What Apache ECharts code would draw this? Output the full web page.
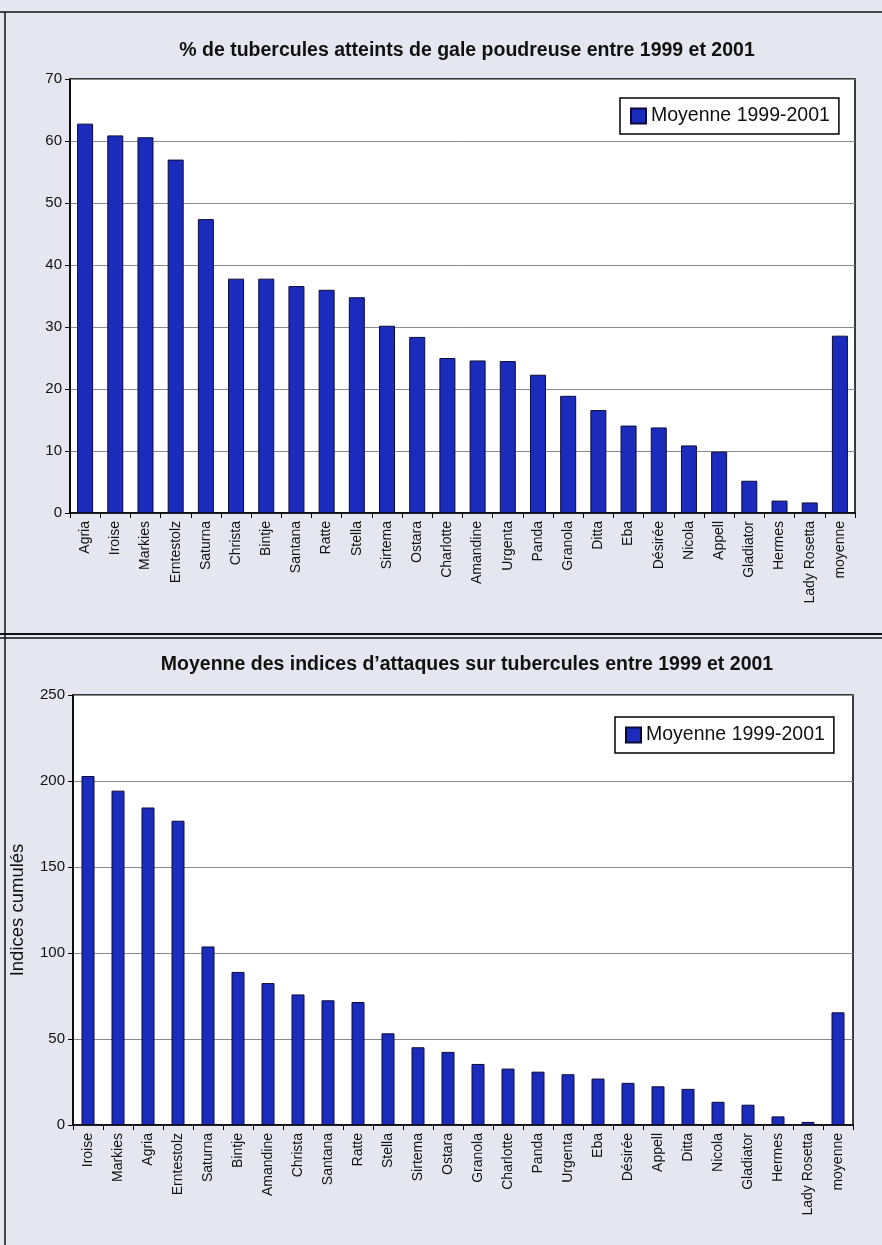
<!DOCTYPE html>
<html><head><meta charset="utf-8">
<script src="https://cdn.jsdelivr.net/npm/echarts@6/dist/echarts.min.js"></script>
<style>html,body{margin:0;padding:0;background:#e6e6f0}#c{width:882px;height:1245px}</style>
</head><body><div id="c"></div>
<script>
const seriesName = 'Moyenne 1999-2001';
const title1 = '% de tubercules atteints de gale poudreuse entre 1999 et 2001';
const title2 = 'Moyenne des indices d\u2019attaques sur tubercules entre 1999 et 2001';
const yName2 = 'Indices cumulés';

const cats1 = ['Agria','Iroise','Markies','Erntestolz','Saturna','Christa','Bintje','Santana','Ratte','Stella','Sirtema','Ostara','Charlotte','Amandine','Urgenta','Panda','Granola','Ditta','Eba','Désirée','Nicola','Appell','Gladiator','Hermes','Lady Rosetta','moyenne'];
const vals1 = [62.8,60.9,60.6,57.0,47.4,37.8,37.8,36.6,36.0,34.8,30.2,28.4,25.0,24.6,24.5,22.3,18.9,16.6,14.1,13.8,10.9,9.9,5.2,2.0,1.7,28.6];

const cats2 = ['Iroise','Markies','Agria','Erntestolz','Saturna','Bintje','Amandine','Christa','Santana','Ratte','Stella','Sirtema','Ostara','Granola','Charlotte','Panda','Urgenta','Eba','Désirée','Appell','Ditta','Nicola','Gladiator','Hermes','Lady Rosetta','moyenne'];
const vals2 = [202.9,194.4,184.6,176.9,103.8,89.0,82.5,75.9,72.5,71.5,53.3,45.2,42.5,35.5,32.8,31.0,29.5,27.0,24.5,22.5,21.0,13.5,11.8,5.0,1.8,65.5];

const y1Min = 0, y1Max = 70, y1Step = 10;
const y2Min = 0, y2Max = 250, y2Step = 50;

const font = "'Liberation Sans', Arial, sans-serif";
const barStyle = {color:'#1b2cbd', borderColor:'#0b0b3a', borderWidth:1};

const chart = echarts.init(document.getElementById('c'), null, {renderer:'canvas'});
function xAxis(gridIndex, data){
  return {type:'category', gridIndex, data,
    axisLine:{show:true, lineStyle:{color:'#000', width:1.5}},
    axisTick:{show:true, alignWithLabel:false, length:5, lineStyle:{color:'#000'}},
    axisLabel:{rotate:90, interval:0, fontSize:14, color:'#111', fontFamily:font, margin:8}
  };
}
function yAxis(gridIndex, min, max, interval, name){
  const a = {type:'value', gridIndex, min, max, interval,
    axisLine:{show:true, lineStyle:{color:'#000', width:1.5}},
    axisTick:{show:true, length:5, lineStyle:{color:'#000'}},
    axisLabel:{fontSize:15, color:'#111', fontFamily:font, margin:8},
    splitLine:{show:true, lineStyle:{color:'#8a8a8a', width:1}}
  };
  if(name){
    a.name = name; a.nameLocation='middle'; a.nameGap=46;
    a.nameTextStyle={fontSize:18.5, color:'#111', fontFamily:font};
  }
  return a;
}
const legendBase = {
  orient:'horizontal', icon:'rect', itemWidth:15, itemHeight:15, itemGap:6,
  backgroundColor:'#fff', borderColor:'#000', borderWidth:1.5, borderRadius:0,
  padding:[8,9,8,10],
  textStyle:{fontSize:19.5, color:'#111', fontFamily:font, padding:[0,0,0,0]},
  data:[seriesName]
};
chart.setOption({
  backgroundColor:'#e6e6f0',
  animation:false,
  title:[
    {text:title1, left:462, top:36, textAlign:'center',
     textStyle:{fontSize:19.5, fontWeight:'bold', color:'#111', fontFamily:font}},
    {text:title2, left:462, top:650, textAlign:'center',
     textStyle:{fontSize:19.5, fontWeight:'bold', color:'#111', fontFamily:font}}
  ],
  legend:[
    Object.assign({}, legendBase, {left:620, top:98}),
    Object.assign({}, legendBase, {left:615, top:717})
  ],
  grid:[
    {left:70, top:79, width:785, height:434, show:true, backgroundColor:'#fff', borderColor:'#000', borderWidth:1.5},
    {left:73, top:695, width:780, height:430, show:true, backgroundColor:'#fff', borderColor:'#000', borderWidth:1.5}
  ],
  xAxis:[xAxis(0,cats1), xAxis(1,cats2)],
  yAxis:[yAxis(0,y1Min,y1Max,y1Step), yAxis(1,y2Min,y2Max,y2Step,yName2)],
  series:[
    {type:'bar', name:seriesName, xAxisIndex:0, yAxisIndex:0, data:vals1, barWidth:16, itemStyle:barStyle},
    {type:'bar', name:seriesName, xAxisIndex:1, yAxisIndex:1, data:vals2, barWidth:13, itemStyle:barStyle}
  ],
  graphic:[
    {type:'line', shape:{x1:0,y1:12,x2:882,y2:12}, style:{stroke:'#111', lineWidth:1.5}},
    {type:'line', shape:{x1:5,y1:12,x2:5,y2:1245}, style:{stroke:'#111', lineWidth:1.5}},
    {type:'line', shape:{x1:0,y1:634,x2:882,y2:634}, style:{stroke:'#111', lineWidth:2}},
    {type:'line', shape:{x1:0,y1:638,x2:882,y2:638}, style:{stroke:'#111', lineWidth:1.5}}
  ]
});
</script></body></html>
